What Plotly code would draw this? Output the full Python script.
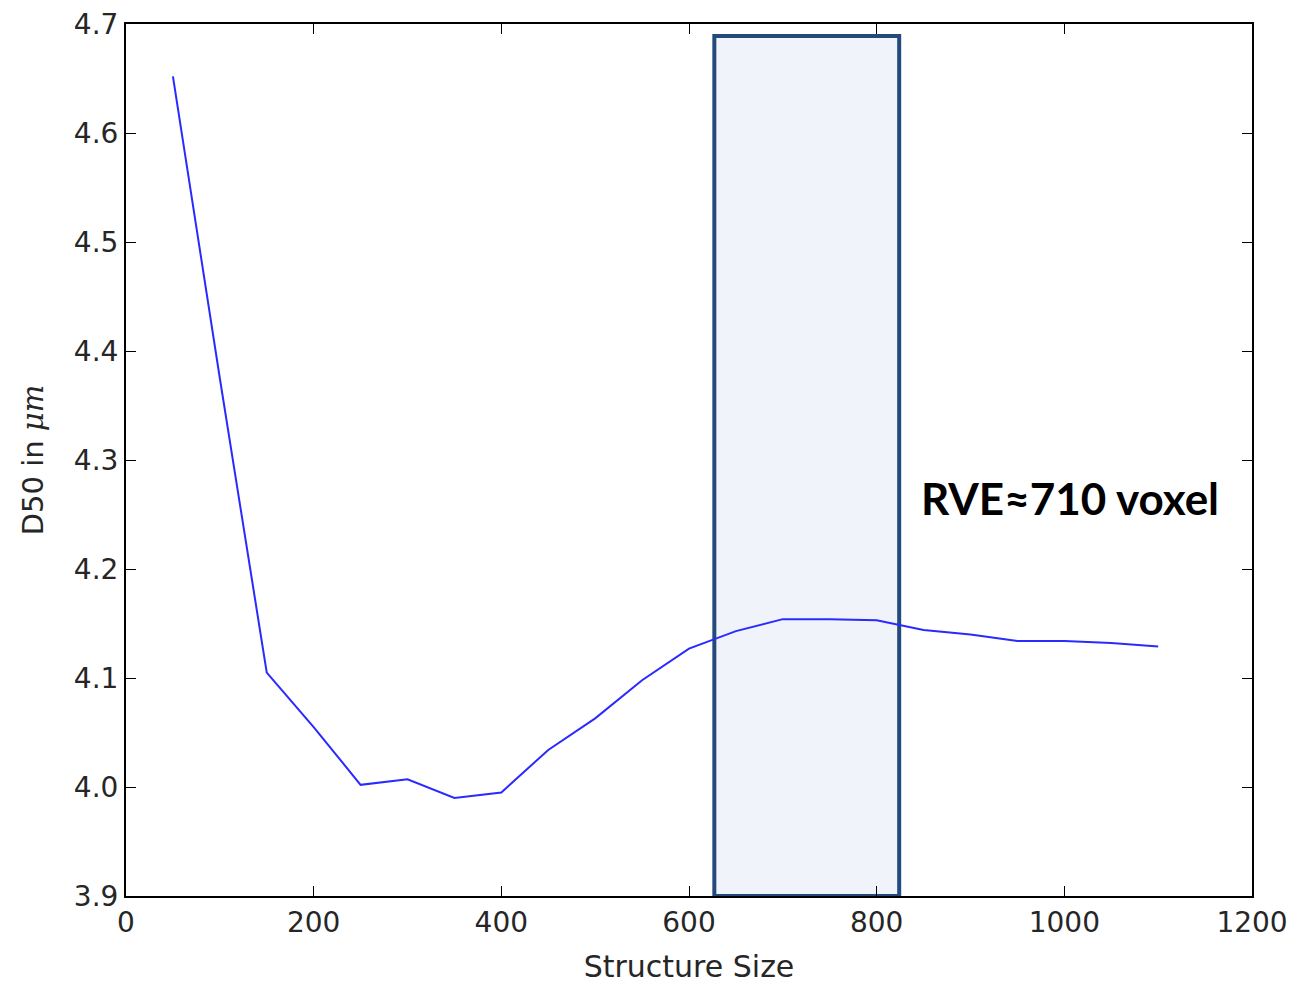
import plotly.graph_objects as go

structure_size = [50, 100, 150, 200, 250, 300, 350, 400, 450, 500, 550,
                  600, 650, 700, 750, 800, 850, 900, 950, 1000, 1050, 1100]
d50 = [4.652, 4.375, 4.105, 4.055, 4.002, 4.007, 3.990, 3.995, 4.034, 4.063, 4.098,
       4.127, 4.143, 4.154, 4.154, 4.153, 4.144, 4.140, 4.134, 4.134, 4.132, 4.129]

rve_range = [627, 824]
rve_top = 4.689
rve_label = "RVE≈710 voxel"

x_ticks = [0, 200, 400, 600, 800, 1000, 1200]
y_ticks = [3.9, 4.0, 4.1, 4.2, 4.3, 4.4, 4.5, 4.6, 4.7]

fig = go.Figure()

fig.add_shape(type="rect", xref="x", yref="y",
              x0=rve_range[0], x1=rve_range[1], y0=3.9, y1=rve_top,
              line=dict(color="#24497C", width=4), fillcolor="#F0F4FA",
              layer="below")

fig.add_trace(go.Scatter(x=structure_size, y=d50, mode="lines",
                         line=dict(color="#2a2aff", width=2), showlegend=False))

fig.add_annotation(x=845, y=4.265, xref="x", yref="y", text="<b>" + rve_label + "</b>",
                   showarrow=False, xanchor="left", yanchor="middle",
                   font=dict(family="Lato", size=44, color="black"))

axis_common = dict(showline=True, linecolor="black", linewidth=2, mirror="ticks",
                   ticks="inside", ticklen=10, tickwidth=1, tickcolor="black",
                   showgrid=False, zeroline=False, ticklabeloverflow="allow",
                   automargin=False,
                   tickfont=dict(family="DejaVu Sans", size=28, color="#262626"))

fig.update_xaxes(range=[0, 1200], tickvals=x_ticks,
                 ticktext=[str(v) for v in x_ticks],
                 title=dict(text="Structure Size", standoff=18,
                            font=dict(family="DejaVu Sans", size=30, color="#262626")),
                 **axis_common)
fig.update_yaxes(range=[3.9, 4.7], tickvals=y_ticks,
                 ticktext=[f"{v:.1f}" for v in y_ticks],
                 title=dict(text="D50 in <i><span style='font-family:DejaVu Serif'>μm</span></i>",
                            standoff=22,
                            font=dict(family="DejaVu Sans", size=29, color="#262626")),
                 **axis_common)

fig.update_layout(width=1314, height=981,
                  margin=dict(l=118, r=70, t=16, b=93),
                  plot_bgcolor="white", paper_bgcolor="white")

fig.write_html("out.html")
